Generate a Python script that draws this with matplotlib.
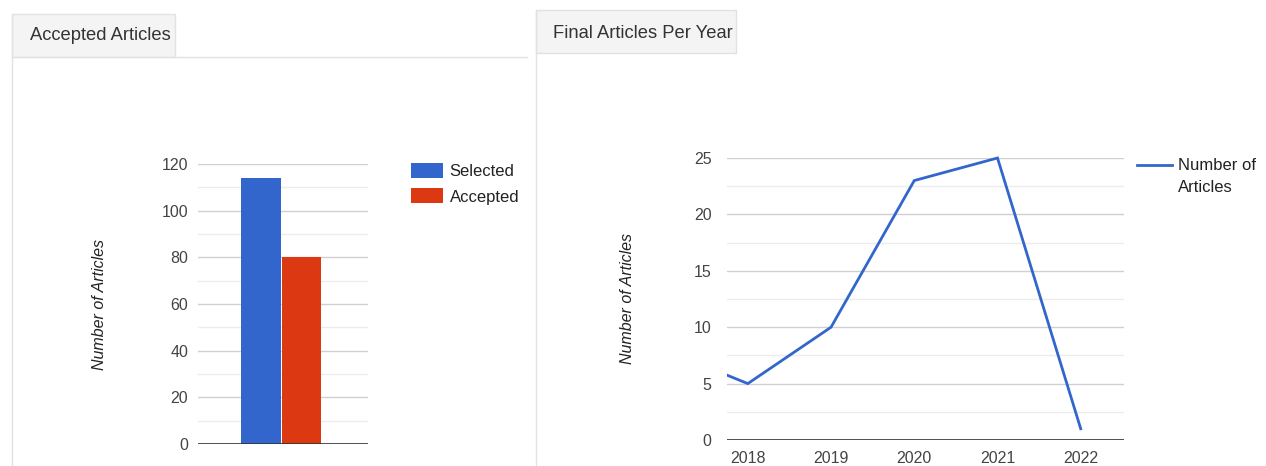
import numpy as np
import matplotlib
matplotlib.use("Agg")
import matplotlib.pyplot as plt
from matplotlib.patches import Rectangle
from matplotlib.lines import Line2D
from matplotlib.legend_handler import HandlerLine2D

# ---- data ----
bar_series = ["Selected", "Accepted"]
bar_values = [114, 80]
bar_colors = ["#3366cc", "#dc3912"]

years = [2017, 2018, 2019, 2020, 2021, 2022]
articles_per_year = [8, 5, 10, 23, 25, 1]
year_ticks = [2018, 2019, 2020, 2021, 2022]

left_title = "Accepted Articles"
right_title = "Final Articles Per Year"
y_label = "Number of Articles"
line_label = "Number of\nArticles"

# ---- layout helpers (pixel -> figure fraction) ----
W, H = 1266, 466
plt.rcParams["font.family"] = ["Liberation Sans", "DejaVu Sans"]

fig = plt.figure(figsize=(W / 100, H / 100), dpi=100)
fig.patch.set_facecolor("white")


def fx(x):
    return x / W


def fy(y):
    return 1 - y / H


def rect_px(x0, y0, x1, y1, **kw):
    fig.add_artist(Rectangle((fx(x0), fy(y1)), fx(x1) - fx(x0), fy(y0) - fy(y1),
                             transform=fig.transFigure, **kw))


def hline_px(x0, x1, y, **kw):
    fig.add_artist(Line2D([fx(x0), fx(x1)], [fy(y), fy(y)], transform=fig.transFigure, **kw))


def vline_px(x, y0, y1, **kw):
    fig.add_artist(Line2D([fx(x), fx(x)], [fy(y0), fy(y1)], transform=fig.transFigure, **kw))


border = "#e2e2e2"
tab_fill = "#f4f4f4"
text_gray = "#444444"
tick_size = 11.5

# ---- card frames and tabs ----
rect_px(12, 14, 175, 57, facecolor=tab_fill, edgecolor=border, lw=1)
hline_px(12, 527, 57, color=border, lw=1)
vline_px(12, 14, 466, color=border, lw=1)
fig.text(fx(30), fy(36), left_title, fontsize=13.2, color="#333333", va="center", ha="left")

rect_px(536, 10, 736, 53, facecolor=tab_fill, edgecolor=border, lw=1)
vline_px(536, 10, 466, color=border, lw=1)
fig.text(fx(553), fy(33), right_title, fontsize=13.2, color="#333333", va="center", ha="left")


def style_axes(ax, ymax, major, minor, pad):
    for s in ax.spines.values():
        s.set_visible(False)
    ax.set_ylim(0, ymax)
    ax.set_yticks(np.arange(0, ymax + 0.01, major))
    ax.set_yticks(np.arange(minor, ymax, major), minor=True)
    ax.grid(True, which="major", axis="y", color="#d0d0d0", lw=1)
    ax.grid(True, which="minor", axis="y", color="#ececec", lw=1)
    ax.set_axisbelow(True)
    ax.tick_params(axis="y", which="both", length=0, labelsize=tick_size,
                   labelcolor=text_gray, pad=pad)
    ax.axhline(0, color="#333333", lw=1.2, zorder=3)
    ax.set_facecolor("none")


class RaisedLineHandler(HandlerLine2D):
    """Legend line aligned with the first row of a two-line label."""

    def __init__(self, raise_by=0.0, **kw):
        super().__init__(**kw)
        self.raise_by = raise_by

    def create_artists(self, legend, orig_handle, xdescent, ydescent, width, height,
                       fontsize, trans):
        artists = super().create_artists(legend, orig_handle, xdescent, ydescent, width,
                                         height, fontsize, trans)
        for a in artists:
            a.set_ydata(np.asarray(a.get_ydata(), dtype=float) + self.raise_by)
        return artists


# ---- left: bar chart ----
ax1 = fig.add_axes([fx(198), fy(444), fx(368) - fx(198), fy(164) - fy(444)])
style_axes(ax1, 120, 20, 10, pad=7)
positions = np.arange(len(bar_values))
bars = ax1.bar(positions, bar_values, width=0.98, color=bar_colors, zorder=2)
ax1.set_xlim(-1.56, 2.64)
ax1.set_xticks([])
ax1.set_ylabel(y_label, fontsize=11.5, style="italic", color="#222222")
ax1.yaxis.set_label_coords(-0.535, 0.5)
ax1.legend(bars, bar_series, loc="upper left", bbox_to_anchor=(fx(411), fy(163)),
           bbox_transform=fig.transFigure, frameon=False, fontsize=12,
           handlelength=1.92, handleheight=1.0, handletextpad=0.4, labelspacing=0.55,
           labelcolor="#222222", borderaxespad=0, borderpad=0)

# ---- right: line chart ----
ax2 = fig.add_axes([fx(727), fy(440), fx(1124) - fx(727), fy(158) - fy(440)])
style_axes(ax2, 25, 5, 2.5, pad=11)
line, = ax2.plot(years, articles_per_year, color="#3366cc", lw=2, zorder=4,
                 solid_joinstyle="miter", label=line_label)
clip = Rectangle((0, -0.05), 1, 1.1, transform=ax2.transAxes, visible=False)
ax2.add_patch(clip)
line.set_clip_path(clip)
ax2.set_xlim(2017.75, 2022.52)
ax2.set_xticks(year_ticks)
ax2.set_xticklabels([str(y) for y in year_ticks])
ax2.tick_params(axis="x", length=0, labelsize=tick_size, labelcolor=text_gray, pad=8)
ax2.set_ylabel(y_label, fontsize=11.5, style="italic", color="#222222")
ax2.yaxis.set_label_coords(-0.232, 0.5)
leg2 = ax2.legend(loc="upper left", bbox_to_anchor=(fx(1137), fy(158)),
                  bbox_transform=fig.transFigure, frameon=False,
                  handlelength=2.1, handletextpad=0.35, labelcolor="#222222",
                  borderaxespad=0, borderpad=0,
                  handler_map={line: RaisedLineHandler(raise_by=8.0)},
                  prop={"size": 12})
for t in leg2.get_texts():
    t.set_linespacing(1.55)

fig.savefig("out.png", dpi=100, facecolor="white")
